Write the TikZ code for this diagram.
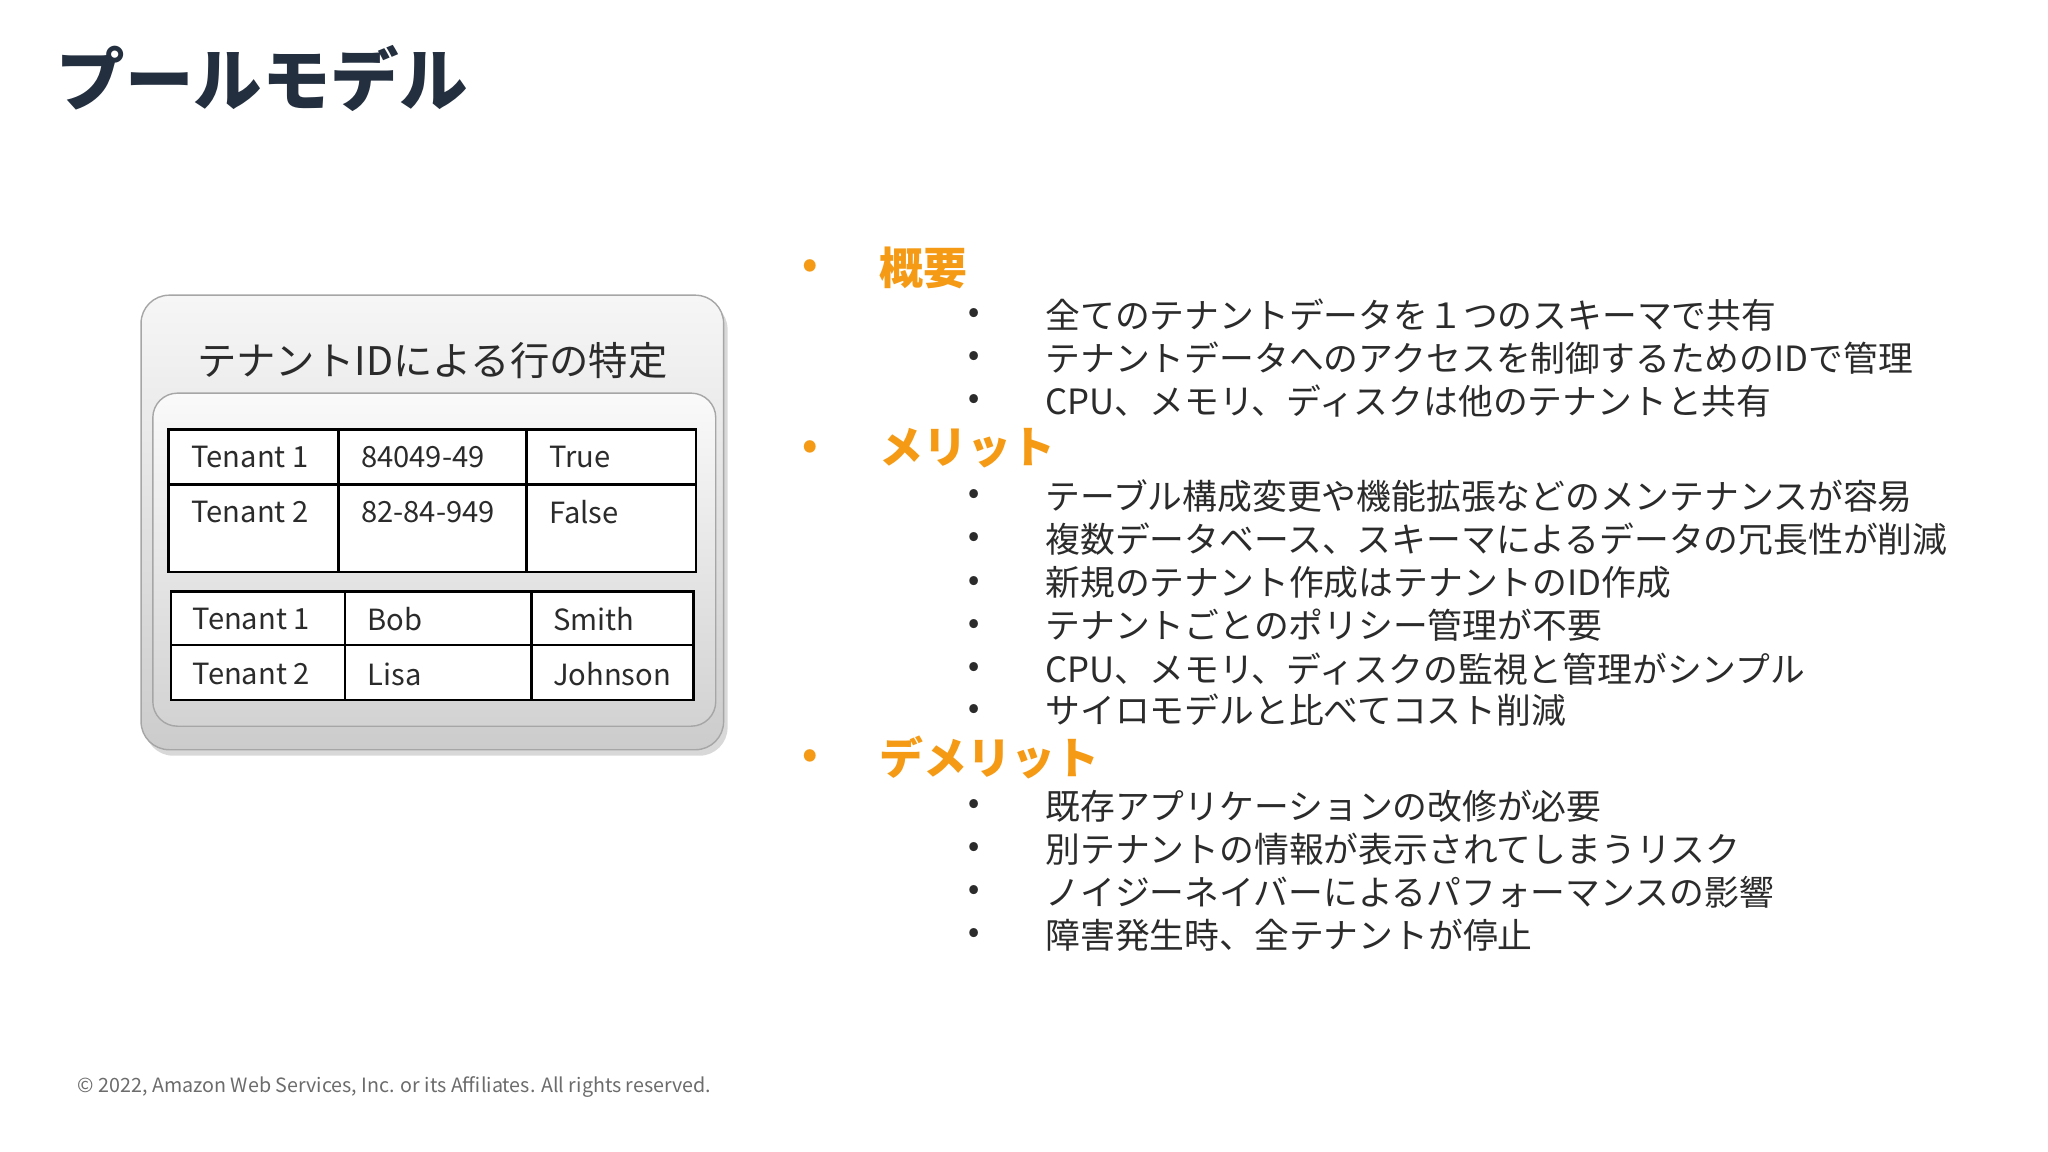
\documentclass[tikz,border=0pt]{standalone}
\usepackage{fontspec}
\setmainfont{Noto Sans CJK JP}
\usetikzlibrary{shadows}
\definecolor{ttl}{HTML}{232F3E}
\definecolor{org}{HTML}{F59A14}
\definecolor{txt}{HTML}{2B2B2B}
\tikzset{
 hd/.style={anchor=west,text=org,font=\fontsize{12.5}{14}\selectfont\bfseries},
 ob/.style={anchor=center,text=org,font=\fontsize{11}{12}\selectfont\bfseries},
 sb/.style={anchor=center,text=txt,font=\fontsize{8}{9}\selectfont\bfseries},
 it/.style={anchor=west,text=txt,font=\fontsize{9.9}{11}\selectfont},
 cell/.style={anchor=west,text=txt,font=\fontsize{8.3}{10}\selectfont},
 tb/.style={draw=black,line width=0.7pt}
}
\begin{document}
\begin{tikzpicture}[x=0.013061cm,y=-0.013061cm]
\useasboundingbox (0,0) rectangle (1568,882);
\fill[white] (0,0) rectangle (1568,882);
\node[anchor=west,text=ttl,font=\fontsize{19.5}{22}\selectfont\bfseries] (title) at (34,60) {プールモデル};
% outer box
\node[draw=gray!70,rounded corners=8pt,minimum width=446*0.013061cm,minimum height=348*0.013061cm,top color=white!93!gray,bottom color=gray!40,drop shadow={opacity=0.3,shadow xshift=0.4mm,shadow yshift=-0.6mm}] (outer) at (331,400) {};
\node[text=txt,font=\fontsize{11.2}{13}\selectfont] (lbl) at (331,276) {テナントIDによる行の特定};
\node[draw=gray!70,rounded corners=7pt,minimum width=431*0.013061cm,minimum height=255*0.013061cm,top color=white!96!gray,bottom color=gray!35] (inner) at (332.5,428.5) {};
% table 1
\fill[white] (129,329) rectangle (533,438);
\draw[tb] (129,329) rectangle (533,438);
\draw[tb] (129,371) -- (533,371);
\draw[tb] (259,329) -- (259,438);
\draw[tb] (403,329) -- (403,438);
\node[cell] (a1) at (137,350) {Tenant 1};
\node[cell] (a2) at (267,350) {84049-49};
\node[cell] (a3) at (411,350) {True};
\node[cell] (b1) at (137,392) {Tenant 2};
\node[cell] (b2) at (267,392) {82-84-949};
\node[cell] (b3) at (411,392) {False};
% table 2
\fill[white] (131,453) rectangle (531,536);
\draw[tb] (131,453) rectangle (531,536);
\draw[tb] (131,494) -- (531,494);
\draw[tb] (264,453) -- (264,536);
\draw[tb] (407,453) -- (407,536);
\node[cell] (c1) at (138,474) {Tenant 1};
\node[cell] (c2) at (272,474) {Bob};
\node[cell] (c3) at (414,474) {Smith};
\node[cell] (d1) at (138,516) {Tenant 2};
\node[cell] (d2) at (272,516) {Lisa};
\node[cell] (d3) at (414,516) {Johnson};
% bullets
\node[ob] (o1) at (620,206) {•};
\node[hd] (h1) at (664,205) {概要};
\node[ob] (o2) at (620,344) {•};
\node[hd] (h2) at (664,343) {メリット};
\node[ob] (o3) at (620,581) {•};
\node[hd] (h3) at (664,580) {デメリット};
\foreach \y/\t in {241/全てのテナントデータを１つのスキーマで共有,
274/テナントデータへのアクセスを制御するためのIDで管理,
307/CPU、メモリ、ディスクは他のテナントと共有,
380/テーブル構成変更や機能拡張などのメンテナンスが容易,
413/複数データベース、スキーマによるデータの冗長性が削減,
446/新規のテナント作成はテナントのID作成,
479/テナントごとのポリシー管理が不要,
512/CPU、メモリ、ディスクの監視と管理がシンプル,
544/サイロモデルと比べてコスト削減,
617/既存アプリケーションの改修が必要,
650/別テナントの情報が表示されてしまうリスク,
683/ノイジーネイバーによるパフォーマンスの影響,
716/障害発生時、全テナントが停止}{
 \node[sb] (s\y) at (746,\y) {•};
 \node[it] (t\y) at (791,\y) {\t};
}
\node[anchor=west,text=gray!85!black,font=\fontsize{5.6}{7}\selectfont] (foot) at (50,832) {© 2022, Amazon Web Services, Inc. or its Affiliates. All rights reserved.};
\end{tikzpicture}
\end{document}
